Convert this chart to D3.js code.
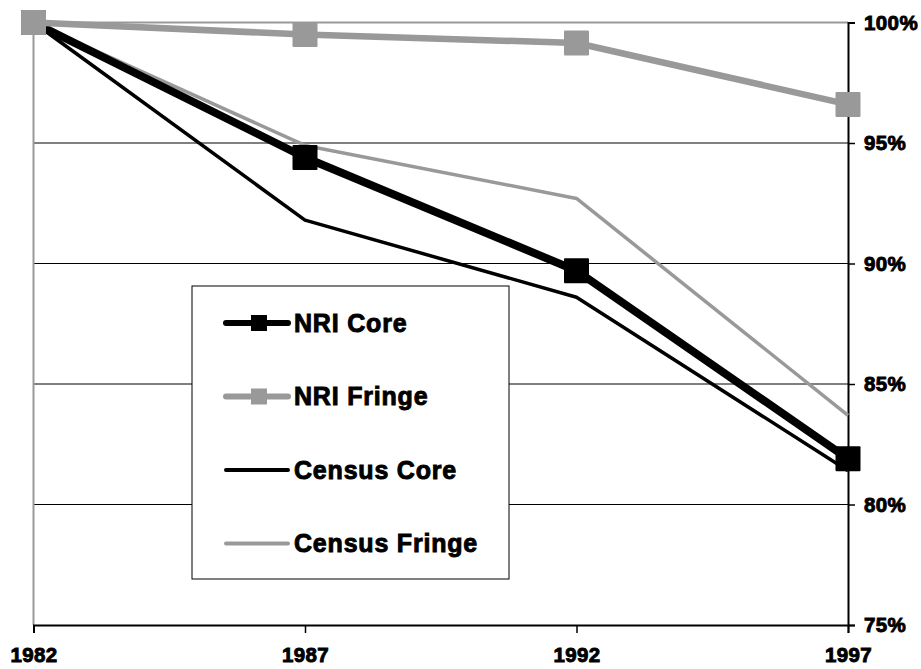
<!DOCTYPE html>
<html>
<head>
<meta charset="utf-8">
<script src="https://cdn.jsdelivr.net/npm/d3@7"></script>
<style>
  body { margin: 0; background: #fff; }
</style>
</head>
<body>
<svg id="chart" width="921" height="669"></svg>
<script>
// data (share of 1982 level, %)
const years = [1982, 1987, 1992, 1997];
const nriCore = [100, 94.4, 89.7, 81.9];
const nriFringe = [100, 99.5, 99.15, 96.6];
const censusCore = [100, 91.8, 88.6, 81.4];
const censusFringe = [100, 94.9, 92.7, 83.7];
const yTicks = [75, 80, 85, 90, 95, 100];

const series = [
    { name: "NRI Core", values: nriCore, color: "#000", width: 8, marker: true },
    { name: "NRI Fringe", values: nriFringe, color: "#999", width: 6.5, marker: true },
    { name: "Census Core", values: censusCore, color: "#000", width: 3.5, marker: false },
    { name: "Census Fringe", values: censusFringe, color: "#999", width: 3.5, marker: false }
];

const fontFamily = "'Liberation Sans', Arial, sans-serif";
const svg = d3.select("#chart");
const plotLeft = 33.5, plotRight = 848, plotTop = 22.5, plotBottom = 625;

const x = d3.scalePoint().domain(years).range([plotLeft, plotRight]);
const y = d3.scaleLinear().domain([75, 100]).range([plotBottom, plotTop]);

// bold text helper (adds a thin stroke so the weight reads heavy)
function boldText(sel, size) {
    sel.attr("font-family", fontFamily)
        .attr("font-weight", "bold")
        .attr("font-size", size)
        .attr("fill", "#000")
        .attr("stroke", "#000")
        .attr("stroke-width", 0.9)
        .attr("letter-spacing", 0.4);
}

// gridlines
svg.append("g")
    .selectAll("line")
    .data(yTicks.filter(d => d > 75 && d < 100))
    .enter()
    .append("line")
    .attr("x1", plotLeft).attr("x2", plotRight)
    .attr("y1", d => y(d)).attr("y2", d => y(d))
    .attr("stroke", "#000")
    .attr("stroke-width", 1);

// plot-area border (grey) on top and left
svg.append("path")
    .attr("d", `M${plotLeft},${plotBottom}V${plotTop}H${plotRight}`)
    .attr("fill", "none")
    .attr("stroke", "#999")
    .attr("stroke-width", 2);

// right value axis
const yAxis = svg.append("g")
    .attr("transform", `translate(${plotRight},0)`)
    .call(d3.axisRight(y).tickValues(yTicks).tickSize(7).tickFormat(d => d + "%"));
yAxis.select(".domain").attr("stroke", "#000").attr("stroke-width", 2);
yAxis.selectAll(".tick line").attr("stroke", "#000").attr("stroke-width", 1.5);
yAxis.selectAll(".tick text")
    .attr("x", 16)
    .call(boldText, 20.5);

// bottom category axis
const xAxis = svg.append("g")
    .attr("transform", `translate(0,${plotBottom})`)
    .call(d3.axisBottom(x).tickSize(8).tickFormat(d => d));
xAxis.select(".domain").attr("stroke", "#000").attr("stroke-width", 2);
xAxis.selectAll(".tick line").attr("stroke", "#000").attr("stroke-width", 1.5);
xAxis.selectAll(".tick text")
    .attr("y", 22)
    .call(boldText, 20.5);

const line = d3.line()
    .x((d, i) => x(years[i]))
    .y(d => y(d));

// draw order: census lines beneath, NRI on top
const drawOrder = [series[2], series[3], series[0], series[1]];
drawOrder.forEach(s => {
    svg.append("path")
        .datum(s.values)
        .attr("fill", "none")
        .attr("stroke", s.color)
        .attr("stroke-width", s.width)
        .attr("stroke-linejoin", "round")
        .attr("d", line);
    if (s.marker) {
        svg.selectAll(null)
            .data(s.values)
            .enter()
            .append("rect")
            .attr("x", (d, i) => x(years[i]) - 12.5)
            .attr("y", d => y(d) - 12.5)
            .attr("width", 25)
            .attr("height", 25)
            .attr("rx", 1)
            .attr("fill", s.color);
    }
});

// legend
const legend = svg.append("g").attr("transform", "translate(192,286)");
legend.append("rect")
    .attr("width", 317)
    .attr("height", 293)
    .attr("fill", "#fff")
    .attr("stroke", "#000")
    .attr("stroke-width", 1);

series.forEach((s, i) => {
    const g = legend.append("g").attr("transform", `translate(0,${37 + i * 73.5})`);
    g.append("line")
        .attr("x1", 34).attr("x2", 96)
        .attr("stroke", s.color)
        .attr("stroke-width", s.marker ? 6 : 4)
        .attr("stroke-linecap", "round");
    if (s.marker) {
        g.append("rect")
            .attr("x", 59).attr("y", -8)
            .attr("width", 16).attr("height", 16)
            .attr("fill", s.color);
    }
    g.append("text")
        .attr("x", 102)
        .attr("y", 8.5)
        .call(boldText, 25)
        .attr("letter-spacing", 0.8)
        .text(s.name);
});
</script>
</body>
</html>
